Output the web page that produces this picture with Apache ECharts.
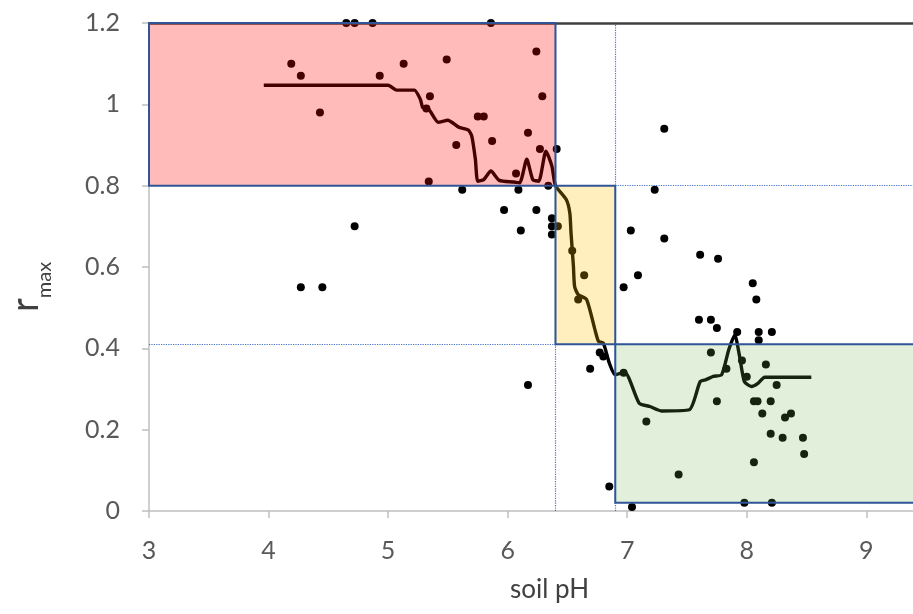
<!DOCTYPE html>
<html>
<head>
<meta charset="utf-8">
<script src="https://cdn.jsdelivr.net/npm/echarts@6/dist/echarts.min.js"></script>
<style>
html,body{margin:0;padding:0;background:#fff;overflow:hidden;}
#chart{width:913px;height:614px;}
</style>
</head>
<body>
<div id="chart"></div>
<script>
// Observations: soil pH vs r_max
const obsPH = [
  4.65,4.72,4.87,5.86,4.19,4.27,4.43,4.93,5.13,5.49,5.35,5.32,5.75,5.80,5.57,5.87,6.24,6.29,6.17,6.27,6.07,5.34,5.62,6.09,6.34,6.41,
  5.97,6.24,6.11,4.72,4.27,4.45,6.37,6.37,6.37,6.42,6.54,6.64,6.59,6.17,
  7.31,7.23,7.03,7.31,7.61,7.76,7.09,6.97,8.05,8.08,7.60,7.70,7.75,7.92,8.10,8.10,8.21,
  6.77,6.80,6.69,6.97,7.70,7.83,7.96,8.00,8.16,8.25,7.75,8.06,8.09,8.20,8.13,8.32,8.37,8.20,8.30,8.47,8.48,8.06,7.16,7.43,6.85,7.98,8.21,7.04
];
const obsR = [
  1.20,1.20,1.20,1.20,1.10,1.07,0.98,1.07,1.10,1.11,1.02,0.99,0.97,0.97,0.90,0.91,1.13,1.02,0.93,0.89,0.83,0.81,0.79,0.79,0.80,0.89,
  0.74,0.74,0.69,0.70,0.55,0.55,0.72,0.70,0.68,0.70,0.64,0.58,0.52,0.31,
  0.94,0.79,0.69,0.67,0.63,0.62,0.58,0.55,0.56,0.52,0.47,0.47,0.45,0.44,0.44,0.42,0.44,
  0.39,0.38,0.35,0.34,0.39,0.35,0.37,0.33,0.36,0.31,0.27,0.27,0.27,0.27,0.24,0.23,0.24,0.19,0.18,0.18,0.14,0.12,0.22,0.09,0.06,0.02,0.02,0.01
];
// Smoothed trend curve
const curvePH = [3.96,5.00,5.07,5.22,5.27,5.29,5.34,5.42,5.50,5.59,5.67,5.70,5.73,5.75,5.80,5.86,5.93,6.05,6.10,6.16,6.21,6.26,6.32,6.37,6.40,
  6.49,6.52,6.53,6.55,6.56,6.59,6.66,6.73,6.76,6.80,6.85,6.90,6.98,7.10,7.19,7.29,7.52,7.61,7.66,7.72,7.79,7.85,7.90,7.94,7.98,8.04,8.09,8.15,8.54];
const curveR = [1.047,1.047,1.035,1.035,1.012,0.992,0.988,0.956,0.961,0.944,0.937,0.922,0.865,0.811,0.815,0.836,0.813,0.809,0.807,0.865,0.815,0.811,0.885,0.848,0.800,
  0.766,0.733,0.684,0.602,0.552,0.532,0.520,0.446,0.417,0.413,0.364,0.335,0.341,0.265,0.257,0.246,0.249,0.318,0.323,0.331,0.335,0.397,0.433,0.380,0.318,0.306,0.313,0.329,0.329];
// Zone boundaries
const phBounds = [3, 6.4, 6.9, 9.7];
const rBounds = [1.2, 0.8, 0.41, 0.02];
const xTicks = [3,4,5,6,7,8,9];
const yTicks = [0,0.2,0.4,0.6,0.8,1,1.2];
const zoneColors = ['rgba(255,0,0,0.27)','rgba(255,192,0,0.25)','rgba(112,173,71,0.2)'];

const scatterData = obsPH.map((x,i)=>[x, obsR[i]]);
const curveData = curvePH.map((x,i)=>[x, curveR[i]]);
const zoneData = [
  [phBounds[0], rBounds[0], phBounds[1], rBounds[1]],
  [phBounds[1], rBounds[1], phBounds[2], rBounds[2]],
  [phBounds[2], rBounds[2], phBounds[3], rBounds[3]]
];

const FONT = 'Lato';
const chart = echarts.init(document.getElementById('chart'), null, {renderer:'canvas'});
const dotted = {type:'dotted', color:'#4472C4', width:1.2};
chart.setOption({
  animation:false,
  backgroundColor:'#fff',
  grid:{left:149, top:23, bottom:103, right:-37, containLabel:false, outerBoundsMode:'none'},
  xAxis:{
    type:'value', min:phBounds[0], max:phBounds[3], interval:1,
    name:'soil pH', nameLocation:'middle', nameGap:66,
    nameTextStyle:{fontFamily:FONT, fontSize:26, color:'#404040'},
    axisLine:{show:true, onZero:false, lineStyle:{color:'#BFBFBF', width:1.5}},
    axisTick:{show:true, inside:false, length:7, lineStyle:{color:'#BFBFBF', width:1.5}},
    axisLabel:{fontFamily:FONT, fontSize:25, color:'#595959', margin:27, showMaxLabel:false,
      formatter:v => xTicks.includes(v) ? String(v) : ''},
    splitLine:{show:false}
  },
  yAxis:{
    type:'value', min:0, max:rBounds[0], interval:0.2,
    name:'{r|r}{s|max}', nameLocation:'middle', nameGap:94, nameRotate:90,
    nameTextStyle:{rich:{
      r:{fontFamily:FONT, fontSize:38, color:'#404040', padding:[0,0,10,0], verticalAlign:'middle'},
      s:{fontFamily:FONT, fontSize:20, color:'#404040', verticalAlign:'bottom', padding:[0,40,0,0]}
    }},
    axisLine:{show:true, lineStyle:{color:'#BFBFBF', width:1.5}},
    axisTick:{show:true, inside:false, length:7, lineStyle:{color:'#BFBFBF', width:1.5}},
    axisLabel:{fontFamily:FONT, fontSize:25, color:'#595959', margin:29,
      formatter:v => { const t = yTicks.find(k=>Math.abs(k-v)<1e-6); return t===undefined ? '' : String(t); }},
    splitLine:{show:false}
  },
  series:[
    {
      type:'scatter', z:2, data:scatterData, symbol:'circle', symbolSize:8,
      itemStyle:{color:'#000', opacity:1}
    },
    {
      type:'line', z:2, data:curveData, showSymbol:false, smooth:0.2,
      lineStyle:{color:'#000', width:3.4}
    },
    {
      type:'line', z:3, data:[], silent:true,
      markLine:{
        silent:true, symbol:['none','none'], label:{show:false},
        data:[
          [{coord:[phBounds[1], 0], lineStyle:dotted},{coord:[phBounds[1], rBounds[0]]}],
          [{coord:[phBounds[2], 0], lineStyle:dotted},{coord:[phBounds[2], rBounds[0]]}],
          [{coord:[phBounds[0], rBounds[2]], lineStyle:dotted},{coord:[phBounds[1], rBounds[2]]}],
          [{coord:[phBounds[2], rBounds[1]], lineStyle:dotted},{coord:[phBounds[3], rBounds[1]]}],
          [{coord:[phBounds[0], rBounds[0]], lineStyle:{type:'solid', color:'#404040', width:2.5}},{coord:[phBounds[3], rBounds[0]]}]
        ]
      }
    },
    {
      type:'custom', z:10, silent:true, clip:false, data:zoneData,
      encode:{x:[0,2], y:[1,3]},
      renderItem:(params, api) => {
        const p1 = api.coord([api.value(0), api.value(1)]);
        const p2 = api.coord([api.value(2), api.value(3)]);
        return {
          type:'rect',
          shape:{x:p1[0], y:p1[1], width:p2[0]-p1[0], height:p2[1]-p1[1]},
          style:{fill:zoneColors[params.dataIndex], stroke:'#2F5597', lineWidth:2}
        };
      }
    }
  ]
});
</script>
</body>
</html>
